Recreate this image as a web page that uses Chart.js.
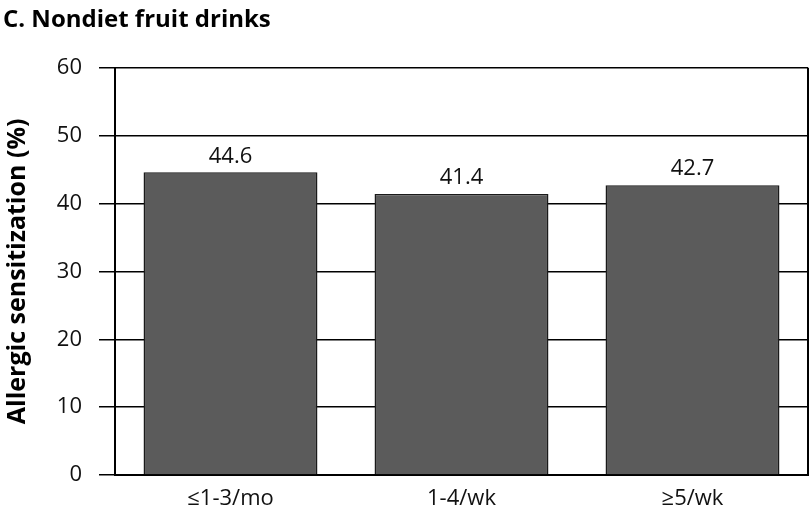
<!DOCTYPE html>
<html>
<head>
<meta charset="utf-8">
<script src="https://cdn.jsdelivr.net/npm/chart.js@4"></script>
<style>
  body { margin: 0; background: #fff; }
  #wrap { width: 810px; height: 518px; }
</style>
</head>
<body>
<div id="wrap"><canvas id="chart" width="810" height="518"></canvas></div>
<script>
// data
var categories = ['≤1-3/mo', '1-4/wk', '≥5/wk'];
var sensitization = [44.6, 41.4, 42.7];
var yTicks = [0, 10, 20, 30, 40, 50, 60];

var FONT = '"Open Sans", "Noto Sans", sans-serif';

// values above bars
var valueLabels = {
    id: 'valueLabels',
    afterDatasetsDraw: function(chart) {
        var ctx = chart.ctx;
        var meta = chart.getDatasetMeta(0);
        ctx.save();
        ctx.font = '22px ' + FONT;
        ctx.fillStyle = '#111';
        ctx.textAlign = 'center';
        ctx.textBaseline = 'bottom';
        meta.data.forEach(function(bar, i) {
            ctx.fillText(sensitization[i].toFixed(1), bar.x, bar.y - 5);
        });
        ctx.restore();
    }
};

// closes the frame on the right side
var frame = {
    id: 'frame',
    afterDraw: function(chart) {
        var a = chart.chartArea;
        var ctx = chart.ctx;
        ctx.save();
        ctx.strokeStyle = '#000';
        ctx.lineWidth = 2;
        ctx.beginPath();
        ctx.moveTo(a.right, a.top);
        ctx.lineTo(a.right, a.bottom);
        ctx.stroke();
        ctx.restore();
    }
};

var ctx = document.getElementById('chart').getContext('2d');
new Chart(ctx, {
    type: 'bar',
    data: {
        labels: categories,
        datasets: [{
            data: sensitization,
            backgroundColor: '#5b5b5b',
            borderColor: '#1a1a1a',
            borderWidth: 1.5,
            categoryPercentage: 1,
            barPercentage: 0.753
        }]
    },
    options: {
        responsive: false,
        animation: false,
        layout: { padding: { left: 3, right: 2, top: 0, bottom: 0 } },
        plugins: {
            legend: { display: false },
            tooltip: { enabled: false },
            title: {
                display: true,
                text: 'C. Nondiet fruit drinks',
                align: 'start',
                color: '#000',
                font: { family: FONT, size: 24, weight: 'bold' },
                padding: { top: 6, bottom: 33 }
            }
        },
        scales: {
            x: {
                grid: { display: false, drawTicks: false },
                border: { color: '#000', width: 2 },
                ticks: {
                    color: '#111',
                    padding: 11,
                    font: { family: FONT, size: 22 }
                },
                afterFit: function(scale) { scale.height = 43; }
            },
            y: {
                min: 0,
                max: 60,
                afterBuildTicks: function(scale) {
                    scale.ticks = yTicks.map(function(v) { return { value: v }; });
                },
                grid: { color: '#000', lineWidth: 1.5, tickLength: 16 },
                border: { color: '#000', width: 2 },
                ticks: {
                    color: '#111',
                    padding: 17,
                    font: { family: FONT, size: 22 }
                },
                title: {
                    display: true,
                    text: 'Allergic sensitization (%)',
                    color: '#000',
                    font: { family: FONT, size: 25, weight: 'bold' },
                    padding: { top: 0, bottom: 0 }
                },
                afterFit: function(scale) { scale.width = 112; }
            }
        }
    },
    plugins: [valueLabels, frame]
});
</script>
</body>
</html>
